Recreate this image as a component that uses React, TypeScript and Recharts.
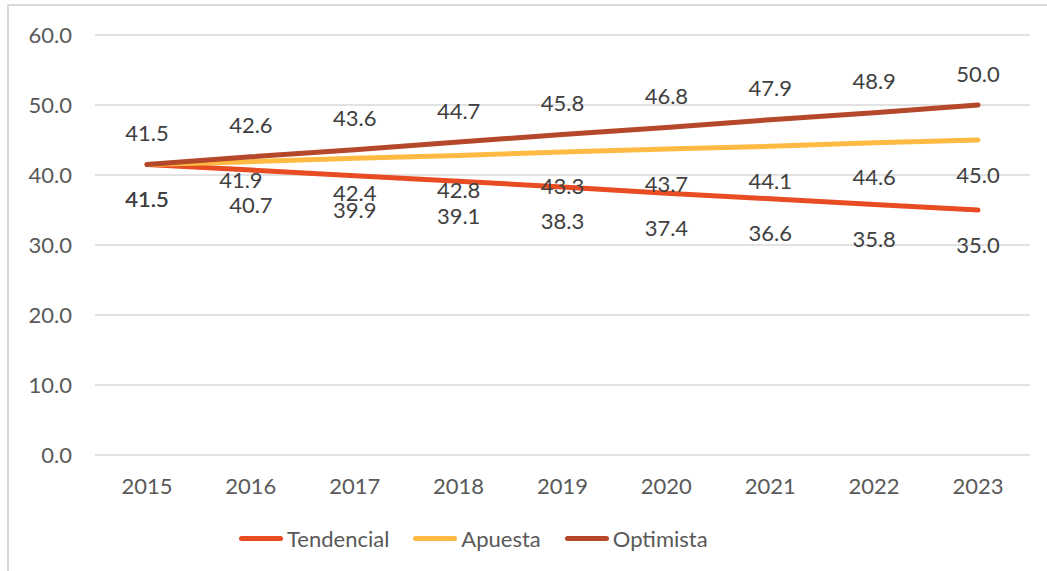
import React from "react";
import { LineChart, Line, XAxis, YAxis, CartesianGrid, LabelList } from "recharts";

const years = ["2015", "2016", "2017", "2018", "2019", "2020", "2021", "2022", "2023"];
const tendencial = [41.5, 40.7, 39.9, 39.1, 38.3, 37.4, 36.6, 35.8, 35.0];
const apuesta = [41.5, 41.9, 42.4, 42.8, 43.3, 43.7, 44.1, 44.6, 45.0];
const optimista = [41.5, 42.6, 43.6, 44.7, 45.8, 46.8, 47.9, 48.9, 50.0];
const yTicks = [0, 10, 20, 30, 40, 50, 60];

const seriesNames = ["Tendencial", "Apuesta", "Optimista"];
const colors = ["#E84C22", "#FFBA43", "#B5472A"];

const FONT = "Lato, 'Open Sans', sans-serif";
const TEXT = "#595959";

const data = years.map((year, i) => ({
  year,
  tendencial: tendencial[i],
  apuesta: apuesta[i],
  optimista: optimista[i],
}));

// data label renderer, offset above/below the point
const makeLabel = (dy: number, shift?: (i: number) => [number, number]) => (props: any) => {
  const { x, y, value, index } = props;
  let ox = 0;
  let oy = dy;
  if (shift) {
    const s = shift(index);
    ox = s[0];
    oy = s[1];
  }
  return (
    <text
      x={x + ox}
      y={y + oy}
      textAnchor="middle"
      dominantBaseline="central"
      fontSize={22}
      fontFamily={FONT}
      fill="#404040"
    >
      {Number(value).toFixed(1)}
    </text>
  );
};

function ChartLegend() {
  return (
    <div
      style={{
        position: "absolute",
        left: 239,
        top: 525,
        display: "flex",
        alignItems: "center",
        fontFamily: FONT,
        fontSize: 22,
        color: TEXT,
      }}
    >
      {seriesNames.map((name, i) => (
        <div key={name} style={{ display: "flex", alignItems: "center", marginRight: 24 }}>
          <div
            style={{
              width: 44,
              height: 5,
              borderRadius: 3,
              background: colors[i],
              marginRight: 4,
            }}
          />
          <span>{name}</span>
        </div>
      ))}
    </div>
  );
}

export default function App() {
  return (
    <div style={{ position: "relative", width: 1047, height: 571, overflow: "hidden", background: "#fff" }}>
      <style>{"body{margin:0;overflow:hidden}"}</style>
      <div
        style={{
          position: "absolute",
          left: 7,
          top: 4,
          width: 1100,
          height: 600,
          borderTop: "2px solid #d9d9d9",
          borderLeft: "2px solid #d9d9d9",
        }}
      />
      <div style={{ position: "absolute", left: 0, top: 0 }}>
        <LineChart
          width={1047}
          height={571}
          data={data}
          margin={{ top: 35, right: 17, bottom: 0, left: 15 }}
        >
          <CartesianGrid vertical={false} stroke="#d9d9d9" strokeWidth={1.5} />
          <XAxis
            dataKey="year"
            height={116}
            padding={{ left: 52, right: 52 }}
            axisLine={false}
            tickLine={false}
            tickMargin={17}
            tick={{ fill: TEXT, fontSize: 22, fontFamily: FONT }}
          />
          <YAxis
            width={80}
            domain={[0, 60]}
            ticks={yTicks}
            axisLine={false}
            tickLine={false}
            tickMargin={17}
            tickFormatter={(v) => Number(v).toFixed(1)}
            tick={{ fill: TEXT, fontSize: 22, fontFamily: FONT }}
          />
          <Line
            dataKey="tendencial"
            name={seriesNames[0]}
            stroke={colors[0]}
            strokeWidth={5}
            strokeLinecap="round"
            dot={false}
            isAnimationActive={false}
          >
            <LabelList dataKey="tendencial" content={makeLabel(34)} />
          </Line>
          <Line
            dataKey="apuesta"
            name={seriesNames[1]}
            stroke={colors[1]}
            strokeWidth={5}
            strokeLinecap="round"
            dot={false}
            isAnimationActive={false}
          >
            <LabelList
              dataKey="apuesta"
              content={makeLabel(34, (i) => (i === 1 ? [-10, 18] : [0, 34]))}
            />
          </Line>
          <Line
            dataKey="optimista"
            name={seriesNames[2]}
            stroke={colors[2]}
            strokeWidth={5}
            strokeLinecap="round"
            dot={false}
            isAnimationActive={false}
          >
            <LabelList dataKey="optimista" content={makeLabel(-32)} />
          </Line>
        </LineChart>
      </div>
      <ChartLegend />
    </div>
  );
}
